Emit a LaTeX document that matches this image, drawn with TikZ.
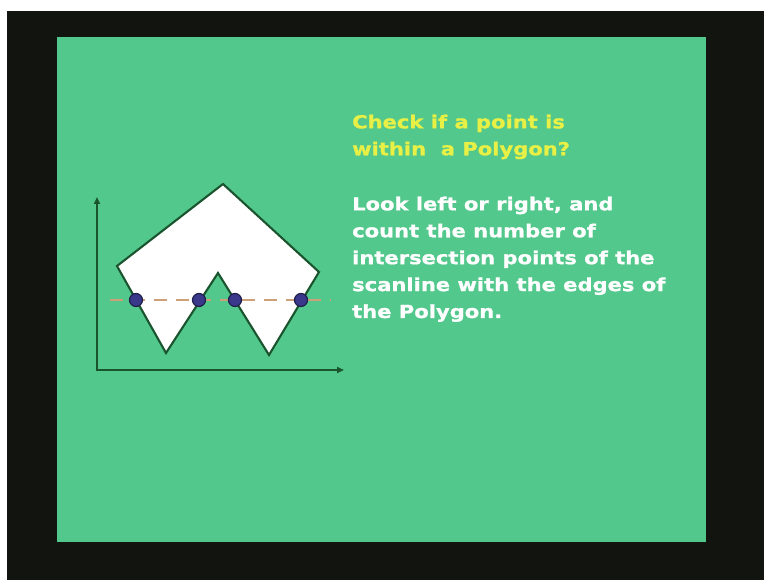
\documentclass[tikz,border=0pt]{standalone}
\usepackage{fontspec}
\newfontfamily\slidefont[FakeStretch=1.17, BoldFeatures={FakeBold=1}]{DejaVu Sans}
\usetikzlibrary{arrows.meta}
\definecolor{slidegreen}{RGB}{82,200,140}
\definecolor{slideblack}{RGB}{18,20,16}
\definecolor{slideyellow}{RGB}{232,240,70}
\definecolor{edgegreen}{RGB}{26,84,46}
\definecolor{dotblue}{RGB}{58,56,138}
\definecolor{scantan}{RGB}{205,160,120}
\tikzset{
    axisline/.style={draw=edgegreen, line width=1.9pt, {Triangle[length=7pt, width=6pt]}-{Triangle[length=7pt, width=6pt]}},
    polyshape/.style={draw=edgegreen, fill=white, line width=2.1pt, line join=miter},
    scanpath/.style={draw=scantan, line width=1.5pt, dash pattern=on 13pt off 9pt},
    hitdot/.style={circle, draw=dotblue!55!black, fill=dotblue, line width=1.2pt, minimum size=13pt, inner sep=0pt},
    titletext/.style={anchor=north west, inner sep=0pt, align=left, text=slideyellow, font=\slidefont\bfseries\fontsize{18}{26.9}\selectfont},
    bodytext/.style={anchor=north west, inner sep=0pt, align=left, text=white, font=\slidefont\bfseries\fontsize{18}{26.9}\selectfont}
}
\begin{document}
\begin{tikzpicture}[x=1pt, y=-1pt]
    \useasboundingbox (0,0) rectangle (764,580);
    \fill[white] (0,0) rectangle (764,580);
    \fill[slideblack] (7,11) rectangle (764,580);
    \fill[slidegreen] (57,37) rectangle (706,542);
    % axes
    \coordinate (ytop) at (97,197);
    \coordinate (xend) at (344,370);
    \draw[axisline] (ytop) |- (xend);
    % polygon
    \coordinate (apex) at (223,184);
    \coordinate (pr) at (319,272);
    \coordinate (vr) at (269,355);
    \coordinate (mid) at (218,273);
    \coordinate (vl) at (166,353);
    \coordinate (pl) at (117,266);
    \draw[polyshape] (apex) -- (pr) -- (vr) -- (mid) -- (vl) -- (pl) -- cycle;
    % scanline
    \coordinate (sl) at (110,300);
    \coordinate (sr) at (331,300);
    \draw[scanpath] (sl) -- (sr);
    \node[hitdot] at (136,300) (h1) {};
    \node[hitdot] at (199,300) (h2) {};
    \node[hitdot] at (235,300) (h3) {};
    \node[hitdot] at (301,300) (h4) {};
    % text
    \node[titletext] at (352,114.5) (title) {Check if a point is\\within\ \ a Polygon?};
    \node[bodytext] at (352,196.5) (body) {Look left or right, and\\count the number of\\intersection points of the\\scanline with the edges of\\the Polygon.};
\end{tikzpicture}
\end{document}
